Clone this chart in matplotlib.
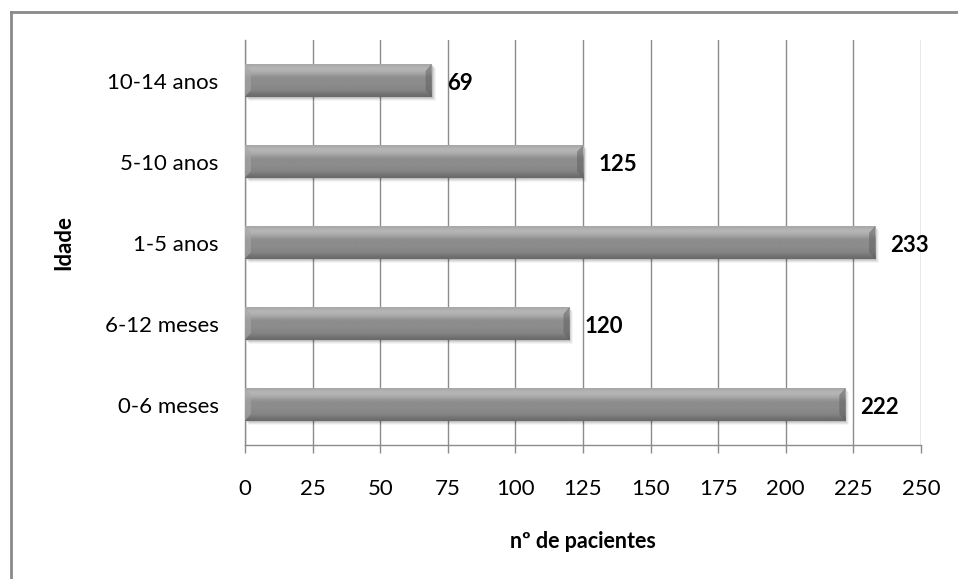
import matplotlib.pyplot as plt
import numpy as np
from matplotlib.lines import Line2D
import matplotlib.transforms as mtransforms

plt.rcParams['font.family'] = ['Lato', 'DejaVu Sans']

faixas = ["0-6 meses", "6-12 meses", "1-5 anos", "5-10 anos", "10-14 anos"]
pacientes = [222, 120, 233, 125, 69]
xticks = [0, 25, 50, 75, 100, 125, 150, 175, 200, 225, 250]

fig = plt.figure(figsize=(9.58, 5.79), dpi=100)
ax = fig.add_axes([0.2557, 0.2314, 0.9614 - 0.2557, 0.9309 - 0.2314])

y = np.arange(len(faixas))
bar_h = 0.4

# soft drop shadow under each bar
for dx, dy, a in [(1, -1, 0.10), (2, -2, 0.08), (3, -3, 0.06), (4, -4, 0.04)]:
    tr = mtransforms.offset_copy(ax.transData, fig=fig, x=dx, y=dy, units='dots')
    ax.barh(y, pacientes, height=bar_h, color='black', alpha=a,
            transform=tr, zorder=2, linewidth=0)

bars = ax.barh(y, pacientes, height=bar_h, color='#8c8c8c', zorder=3, linewidth=0)

# vertical shading: light top edge, darker bottom
grad = np.array([0.42, 0.45, 0.49, 0.52, 0.53, 0.54, 0.55, 0.55, 0.55,
                 0.56, 0.60, 0.65, 0.69, 0.71, 0.70, 0.66])
img = grad.reshape(-1, 1)
for rect in bars:
    x0, y0 = rect.get_x(), rect.get_y()
    w, h = rect.get_width(), rect.get_height()
    im = ax.imshow(img, cmap='gray', vmin=0, vmax=1, aspect='auto',
                   extent=(x0, x0 + w, y0, y0 + h), origin='lower',
                   zorder=4, interpolation='bilinear')
    im.set_clip_path(rect)
    # bevelled end caps
    cap = 2.2
    ax.fill([x0, x0 + cap, x0 + cap, x0], [y0, y0 + h * 0.2, y0 + h * 0.8, y0 + h],
            color='#a8a8a8', alpha=0.6, zorder=5, linewidth=0)
    ax.fill([x0 + w, x0 + w - cap, x0 + w - cap, x0 + w],
            [y0, y0 + h * 0.2, y0 + h * 0.8, y0 + h],
            color='#5e5e5e', alpha=0.5, zorder=5, linewidth=0)

for yi, v in zip(y, pacientes):
    ax.annotate(str(v), xy=(v, yi), xytext=(11, -2), textcoords='offset points',
                ha='left', va='center', fontsize=16, fontweight='bold', color='black')

ax.set_xlim(0, 250)
ax.set_ylim(-0.5, len(faixas) - 0.5)
ax.set_xticks(xticks)
ax.set_yticks(y, faixas)
ax.tick_params(axis='x', length=6, width=1, color='#8c8c8c', pad=18.5, labelsize=16)
ax.tick_params(axis='y', length=0, pad=19, labelsize=16)
ax.grid(axis='x', color='#8c8c8c', linewidth=1, zorder=0)
ax.set_axisbelow(True)
for side in ['top', 'right']:
    ax.spines[side].set_visible(False)
for side in ['left', 'bottom']:
    ax.spines[side].set_color('#8c8c8c')
    ax.spines[side].set_linewidth(1)

ax.set_xlabel('nº de pacientes', fontsize=15.5, fontweight='bold', labelpad=23)
ax.set_ylabel('Idade', fontsize=16, fontweight='bold', labelpad=22)

# chart area border (top and left edges)
fig.add_artist(Line2D([10.5 / 958, 1.0], [1 - 11.5 / 579] * 2,
                      transform=fig.transFigure, color='#8a8a8a', linewidth=2))
fig.add_artist(Line2D([10.5 / 958] * 2, [0.0, 1 - 11.5 / 579],
                      transform=fig.transFigure, color='#8a8a8a', linewidth=2))

fig.savefig('out.png', dpi=100)
